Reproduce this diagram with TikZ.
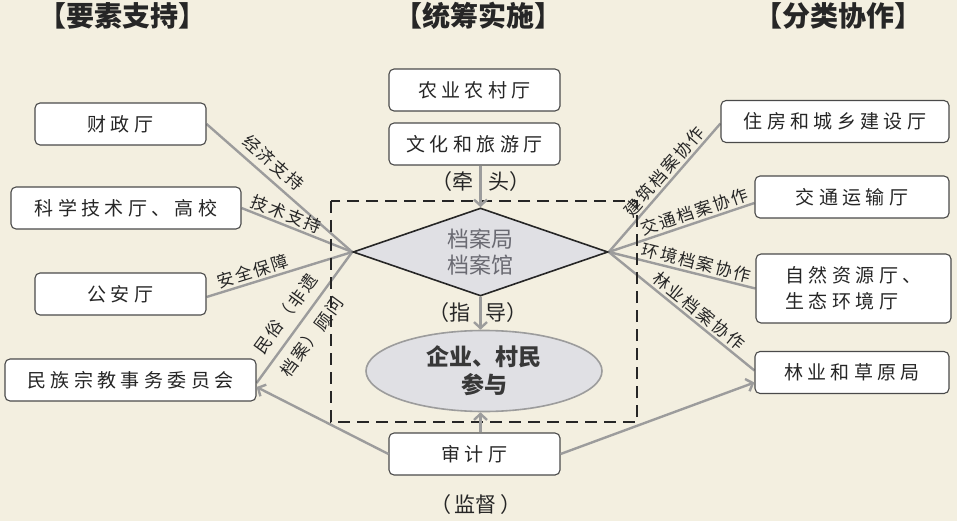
\documentclass[tikz,border=0pt]{standalone}
\usepackage{fontspec}
\setmainfont{Noto Sans CJK SC}
\newfontfamily\boxfont[LetterSpace=23]{Noto Sans CJK SC}
\newfontfamily\labfont[LetterSpace=12]{Noto Sans CJK SC}
\usetikzlibrary{shapes.geometric,arrows.meta,backgrounds}
\definecolor{bg}{HTML}{F3EFE0}
\definecolor{boxline}{HTML}{4A4A4A}
\definecolor{conncol}{HTML}{9C9C9C}
\definecolor{txt}{HTML}{262626}
\definecolor{shade}{HTML}{E0E0E4}
\definecolor{dmtxt}{HTML}{6A6A72}
\begin{document}
\begin{tikzpicture}[x=1pt,y=-1pt,
  title/.style={font=\fontsize{28}{30}\selectfont\bfseries, text=txt},
  box/.style={draw=boxline, line width=1.1pt, rounded corners=5pt, fill=white,
    minimum height=42pt, inner sep=0pt, text=txt, font=\boxfont\fontsize{19}{26}\selectfont},
  conn/.style={draw=conncol, line width=2.4pt},
  arr/.style={conn, -{Straight Barb[length=6pt,width=13pt]}},
  lab/.style={font=\labfont\fontsize{17}{20}\selectfont, text=txt, inner sep=3pt},
  par/.style={font=\fontsize{21}{24}\selectfont, text=txt},
  frame/.style={draw=black!85, line width=2.7pt, dash pattern=on 12pt off 7pt}
]
\begin{scope}[on background layer]
\fill[bg] (0,0) rectangle (957,521);
\end{scope}
\useasboundingbox (0,0) rectangle (957,521);

% titles
\node[title] (t1) at (122,16) {【要素支持】};
\node[title] (t2) at (478,16) {【统筹实施】};
\node[title] (t3) at (838,16) {【分类协作】};

% centre shapes
\node[diamond, draw=black!85, line width=1.6pt, fill=shade, inner sep=0pt, aspect=3,
  minimum width=255pt, minimum height=88pt, align=center, text=dmtxt,
  font=\fontsize{22}{26}\selectfont] (dm) at (480.5,252) {档案局\\档案馆};
\node[ellipse, draw=conncol, line width=1.6pt, fill=shade, minimum width=236pt,
  minimum height=81pt, align=center, text=black!78,
  font=\fontsize{23}{28}\selectfont\bfseries] (el) at (484,371) {企业、村民\\参与};

% boxes
\node[box, minimum width=171pt] (cz) at (120.5,124) {财政厅};
\node[box, minimum width=230pt] (kx) at (126,208) {科学技术厅、高校};
\node[box, minimum width=171pt] (ga) at (120.5,294) {公安厅};
\node[box, minimum width=251pt] (mz) at (130.5,380) {民族宗教事务委员会};
\node[box, minimum width=171pt] (ny) at (474.5,90) {农业农村厅};
\node[box, minimum width=171pt] (wh) at (474.5,144) {文化和旅游厅};
\node[box, minimum width=171pt] (sj) at (474.5,454) {审计厅};
\node[box, minimum width=228pt] (zf) at (835,121.5) {住房和城乡建设厅};
\node[box, minimum width=194pt] (jt) at (852,197) {交通运输厅};
\node[box, minimum width=195pt, minimum height=69pt, align=left] (zr) at (853.5,288.5) {自然资源厅、\\生态环境厅};
\node[box, minimum width=194pt] (ly) at (852,372.5) {林业和草原局};

% connectors (behind the nodes)
\begin{scope}[on background layer]
\draw[conn] (cz.east) -- (dm.west);
\draw[conn] (kx.east) -- (dm.west);
\draw[conn] ([yshift=-3pt]ga.east) -- (dm.west);
\draw[conn] ([yshift=-3pt]mz.east) -- (dm.west);
\draw[conn] (dm.east) -- ([yshift=-2pt]zf.west);
\draw[conn] (dm.east) -- ([yshift=-6pt]jt.west);
\draw[conn] (dm.east) -- (zr.west);
\draw[conn] (dm.east) -- ([yshift=2pt]ly.west);
\end{scope}

% dashed frame
\draw[frame] (331,201) rectangle (637,422);

% connector labels
\path (cz.east) -- node[lab, sloped, above, pos=0.39, inner ysep=7pt] (l1) {经济支持} (dm.west);
\path (kx.east) -- node[lab, sloped, above, pos=0.37] (l2) {技术支持} (dm.west);
\path ([yshift=-3pt]ga.east) -- node[lab, sloped, above, pos=0.34] (l3) {安全保障} (dm.west);
\path ([yshift=-3pt]mz.east) --
  node[lab, sloped, above, pos=0.45, inner ysep=9pt] (l4) {民俗（非遗}
  node[lab, sloped, below, pos=0.43, inner ysep=9pt] (l5) {档案）顾问} (dm.west);
\path (dm.east) -- node[lab, sloped, above, pos=0.57] (r1) {建筑档案协作} ([yshift=-2pt]zf.west);
\path (dm.east) -- node[lab, sloped, above, pos=0.61] (r2) {交通档案协作} ([yshift=-6pt]jt.west);
\path (dm.east) -- node[lab, sloped, above, pos=0.58] (r3) {环境档案协作} (zr.west);
\path (dm.east) -- node[lab, sloped, above, pos=0.57] (r4) {林业档案协作} ([yshift=2pt]ly.west);

% arrows
\draw[arr] (dm.north |- wh.south) -- (dm.north);
\draw[arr] (dm.south) -- (el.north -| dm.south);
\draw[arr] (sj.north -| dm.south) -- (el.south -| dm.south);
\draw[arr] (sj.west) -- ([yshift=-7pt]mz.east);
\draw[arr] (sj.east) -- ([yshift=-10pt]ly.west);

% parenthetical labels
\node[par] (qt) at (481,182) {（牵\hspace{16pt}头）};
\node[par] (zd) at (478,313) {（指\hspace{16pt}导）};
\node[par] (jd) at (476,505) {（\,监督\,）};
\end{tikzpicture}
\end{document}
